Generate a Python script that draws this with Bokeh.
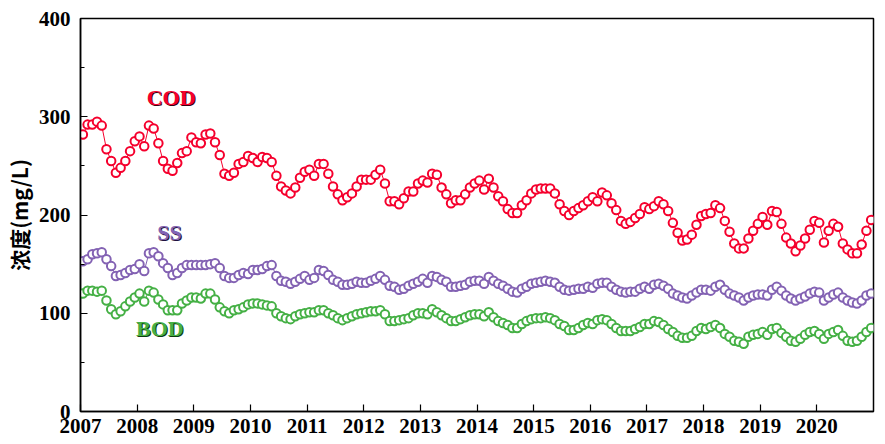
import numpy as np
from bokeh.plotting import figure
from bokeh.models import Range1d, FixedTicker, ColumnDataSource
from bokeh.core.properties import value
from bokeh.embed import file_html
from bokeh.resources import INLINE

# ---------------- data (monthly, Jan 2007 - Dec 2020) ----------------
start_year = 2007
n_years = 14

cod = [
    282, 292, 292, 295, 291, 267, 255, 243, 248, 255, 265, 275,   # 2007
    280, 270, 291, 288, 273, 255, 247, 245, 253, 263, 265, 279,   # 2008
    274, 273, 282, 283, 274, 261, 242, 240, 243, 252, 254, 260,   # 2009
    258, 254, 259, 258, 254, 240, 229, 225, 222, 228, 238, 244,   # 2010
    246, 240, 252, 252, 242, 229, 221, 215, 218, 222, 229, 236,   # 2011
    236, 236, 241, 246, 232, 214, 214, 211, 217, 224, 224, 232,   # 2012
    235, 233, 242, 241, 228, 221, 212, 215, 215, 221, 228, 232,   # 2013
    235, 226, 237, 228, 219, 214, 206, 202, 202, 210, 215, 222,   # 2014
    226, 227, 227, 227, 222, 211, 204, 200, 204, 207, 210, 214,   # 2015
    218, 214, 223, 220, 212, 205, 194, 191, 193, 197, 201, 208,   # 2016
    206, 209, 214, 211, 204, 192, 182, 174, 175, 180, 190, 199,   # 2017
    201, 202, 210, 207, 194, 183, 171, 166, 166, 176, 184, 191,   # 2018
    198, 190, 204, 203, 191, 177, 171, 163, 169, 176, 185, 194,   # 2019
    192, 172, 184, 191, 188, 171, 165, 161, 161, 170, 184, 195,   # 2020
]

ss = [
    153, 155, 160, 161, 162, 155, 148, 138, 139, 141, 144, 145,   # 2007
    150, 143, 161, 162, 158, 151, 146, 139, 141, 146, 149, 149,   # 2008
    149, 149, 149, 150, 151, 146, 138, 136, 136, 139, 141, 140,   # 2009
    144, 144, 145, 148, 149, 138, 133, 132, 130, 132, 135, 138,   # 2010
    134, 136, 144, 143, 139, 134, 132, 129, 129, 130, 132, 131,   # 2011
    131, 133, 135, 138, 134, 128, 127, 124, 125, 128, 130, 132,   # 2012
    135, 131, 138, 137, 134, 132, 127, 127, 128, 129, 132, 133,   # 2013
    133, 130, 137, 133, 130, 128, 125, 122, 121, 125, 127, 130,   # 2014
    131, 132, 133, 132, 131, 127, 124, 123, 124, 125, 125, 127,   # 2015
    126, 130, 131, 131, 127, 124, 122, 121, 122, 122, 125, 127,   # 2016
    125, 129, 130, 128, 125, 120, 118, 116, 115, 118, 121, 124,   # 2017
    124, 123, 127, 129, 124, 120, 118, 116, 113, 116, 118, 119,   # 2018
    119, 118, 124, 127, 123, 118, 115, 113, 115, 117, 120, 122,   # 2019
    121, 113, 116, 119, 121, 116, 113, 111, 110, 113, 118, 120,   # 2020
]

bod = [
    120, 123, 123, 122, 123, 113, 104, 99, 102, 107, 112, 116,    # 2007
    120, 112, 123, 121, 114, 109, 103, 103, 103, 110, 113, 116,   # 2008
    116, 115, 120, 120, 114, 106, 102, 100, 103, 104, 106, 109,   # 2009
    110, 110, 109, 108, 107, 100, 97, 95, 94, 97, 99, 100,        # 2010
    101, 101, 103, 103, 100, 98, 95, 93, 95, 97, 99, 100,         # 2011
    101, 102, 102, 103, 99, 92, 92, 93, 94, 95, 98, 100,          # 2012
    100, 99, 104, 101, 98, 95, 92, 92, 94, 96, 98, 99,            # 2013
    99, 97, 101, 96, 92, 90, 88, 85, 85, 89, 92, 94,              # 2014
    95, 95, 96, 95, 93, 89, 87, 83, 83, 85, 88, 90,               # 2015
    89, 93, 94, 93, 89, 85, 82, 82, 82, 84, 86, 89,               # 2016
    89, 92, 91, 88, 84, 81, 77, 75, 75, 77, 82, 85,               # 2017
    84, 86, 88, 85, 79, 76, 72, 71, 69, 76, 78, 79,               # 2018
    81, 78, 84, 85, 80, 76, 72, 71, 74, 78, 81, 82,               # 2019
    79, 74, 79, 81, 83, 77, 72, 71, 72, 76, 81, 85,               # 2020
]

year_ticks = list(range(2007, 2021))
y_ticks = [0, 100, 200, 300, 400]
y_minor_ticks = [50, 150, 250, 350]

series_names = ["COD", "SS", "BOD"]
series_colors = ["#f5002d", "#8362b3", "#45b045"]
label_x = [2008.6, 2008.57, 2008.4]
label_y = [320, 182, 84]

# ---------------- figure ----------------
months = np.arange(len(cod))
xs = start_year + (months + 0.5) / 12.0

p = figure(width=885, height=444, output_backend="svg", toolbar_location=None,
           x_range=Range1d(2007, 2007 + n_years), y_range=Range1d(0, 400),
           min_border_left=77, min_border_right=12, min_border_top=18,
           min_border_bottom=33)
p.background_fill_color = "white"
p.border_fill_color = "white"
p.outline_line_color = "black"
p.outline_line_width = 1.5
p.grid.visible = False

for vals, col in zip([cod, ss, bod], series_colors):
    src = ColumnDataSource(dict(x=xs, y=vals))
    p.line("x", "y", source=src, line_color=col, line_width=1)
    p.scatter("x", "y", source=src, size=8.5, marker="circle",
              line_color=col, line_width=2, fill_color="white")

# series labels with a dark edge
dark = ["#3a0010", "#1e1040", "#0e3a10"]
for name, col, dk, lx, ly in zip(series_names, series_colors, dark, label_x, label_y):
    src = ColumnDataSource(dict(x=[lx], y=[ly], t=[name]))
    p.text("x", "y", text="t", source=src, text_color=dk,
           text_font=value("Liberation Serif"), text_font_style="bold",
           text_font_size="22px", text_align="center", text_baseline="middle",
           x_offset=1, y_offset=1)
    p.text("x", "y", text="t", source=src, text_color=col,
           text_font=value("Liberation Serif"), text_font_style="bold",
           text_font_size="22px", text_align="center", text_baseline="middle")

# axes
xa = p.xaxis[0]
xa.ticker = FixedTicker(ticks=year_ticks)
ya = p.yaxis[0]
ya.ticker = FixedTicker(ticks=y_ticks, minor_ticks=y_minor_ticks)

for ax in (xa, ya):
    ax.axis_line_color = "black"
    ax.axis_line_width = 1.5
    ax.major_tick_in = 7
    ax.major_tick_out = 0
    ax.major_tick_line_width = 1.2
    ax.major_tick_line_color = "black"
    ax.major_label_text_font = "Liberation Serif"
    ax.major_label_text_font_style = "bold"
    ax.major_label_text_font_size = "21px"
    ax.major_label_text_color = "black"

xa.minor_tick_line_color = None
xa.major_label_standoff = 7
ya.minor_tick_in = 4
ya.minor_tick_out = 0
ya.minor_tick_line_color = "black"
ya.minor_tick_line_width = 1.2
ya.major_label_standoff = 10
ya.axis_label = "浓度(mg/L)"
ya.axis_label_text_font = "Noto Sans CJK SC"
ya.axis_label_text_font_style = "bold"
ya.axis_label_text_font_size = "21px"
ya.axis_label_text_color = "black"
ya.axis_label_standoff = 2

open("out.html", "w").write(file_html(p, INLINE))
